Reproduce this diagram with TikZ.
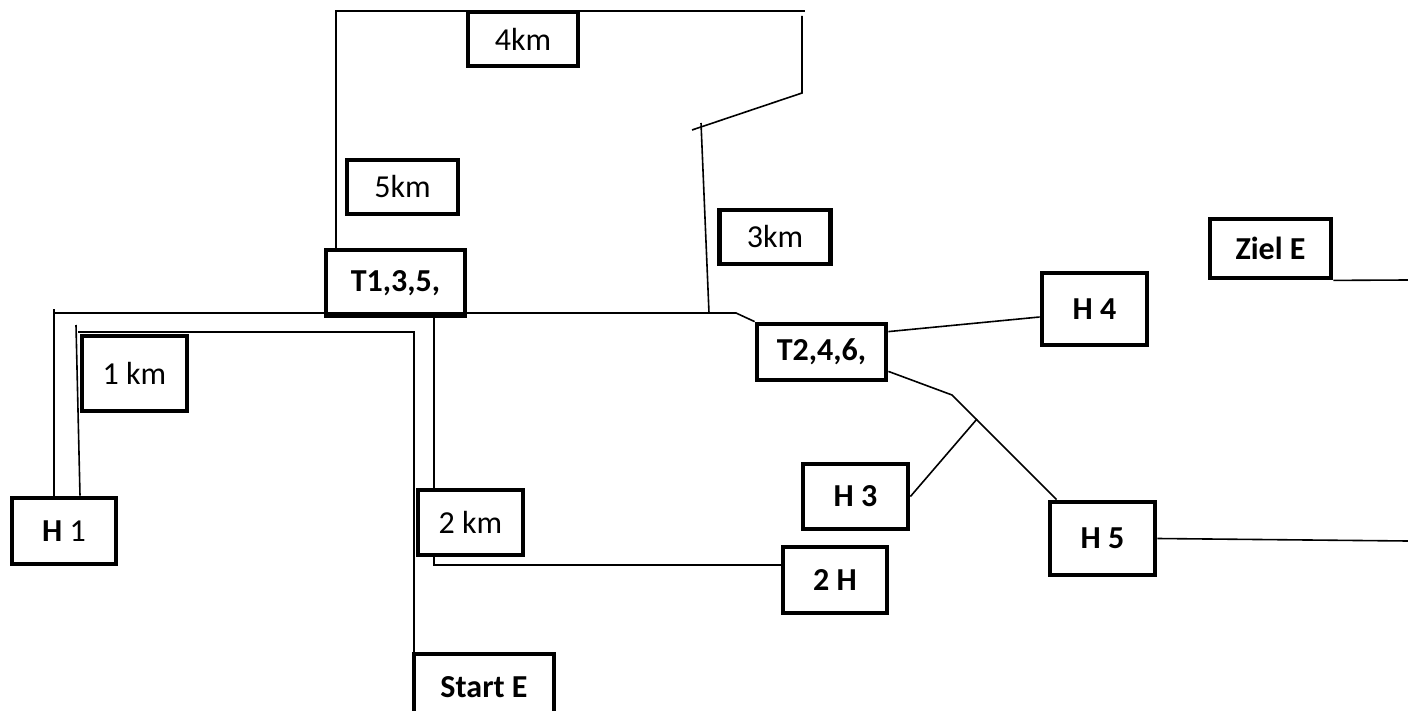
\documentclass[tikz,border=0pt]{standalone}
\usepackage{fontspec}
\setmainfont{Carlito}
\usepackage{tikz}

\begin{document}
\begin{tikzpicture}[x=0.5pt,y=-0.5pt]
  \tikzset{
    box/.style={draw, line width=2.4pt, inner sep=0pt,
          font=\fontsize{16}{19}\selectfont\bfseries},
    kmbox/.style={box, font=\fontsize{16}{19}\selectfont},
    line/.style={line width=0.8pt}
  }

  \useasboundingbox (0,0) rectangle (1408,711);

  \node[kmbox, minimum width=55pt, minimum height=27pt] (km4) at (523,39) {4km};
  \node[kmbox, minimum width=55.5pt, minimum height=27pt] (km5) at (402.5,187) {5km};
  \node[kmbox, minimum width=55.5pt, minimum height=27pt] (km3) at (775,237) {3km};
  \node[kmbox, minimum width=52.5pt, minimum height=37.5pt] (km1) at (134.5,373.5) {1 km};
  \node[kmbox, minimum width=52.5pt, minimum height=32.5pt] (km2) at (470.5,522.5) {2 km};

  \node[box, minimum width=69.5pt, minimum height=33pt] (T1) at (395.5,283) {T1,3,5,};
  \node[box, minimum width=64.5pt, minimum height=28pt] (T2) at (821.5,352) {T2,4,6,};
  \node[kmbox, minimum width=52pt, minimum height=33pt] (H1) at (64,531) {\textbf{H} 1};
  \node[box, minimum width=52pt, minimum height=33pt] (H2) at (835,580) {2 H};
  \node[box, minimum width=52.5pt, minimum height=32.5pt] (H3) at (855.5,496.5) {H 3};
  \node[box, minimum width=52.5pt, minimum height=36pt] (H4) at (1094.5,309) {H 4};
  \node[box, minimum width=52.5pt, minimum height=36.5pt] (H5) at (1102.5,538.5) {H 5};
  \node[box, minimum width=60.5pt, minimum height=29.5pt] (ziel) at (1270.5,248.5) {Ziel E};
  \node[box, minimum width=70pt, minimum height=33pt] (start) at (484,687) {Start E};

  \coordinate (ntl) at (336,11);
  \coordinate (ntr) at (805,11);
  \coordinate (rt) at (802,16);
  \coordinate (rb) at (802,93);
  \coordinate (rk) at (692,130);
  \coordinate (vt) at (701,123);
  \coordinate (vb) at (709,313);
  \coordinate (hl) at (54,309);
  \coordinate (hc) at (54,313);
  \coordinate (hr) at (736,313);
  \coordinate (il) at (76,325);
  \coordinate (ic) at (78,332);
  \coordinate (ir) at (414,332);
  \coordinate (dl) at (434,565);
  \coordinate (ja) at (952,395);
  \coordinate (jb) at (977,419);
  \coordinate (ziel-r) at (1408,280);
  \coordinate (h5-r) at (1408,541);

  \draw[line] (T1.north -| ntl) -- (ntl) -- (ntr);
  \draw[line] (rt) -- (rb) -- (rk);
  \draw[line] (vt) -- (vb);
  \draw[line] (H1.north -| hl) -- (hl);
  \draw[line] (hc) -- (hr) -- (T2.north west);

  \draw[line] (il) -- ([xshift=8pt]H1.north);
  \draw[line] (ic) -- (ir) -- (start.north -| ir);
  \draw[line] (T1.south -| dl) -- (km2.north -| dl);
  \draw[line] (km2.south -| dl) -- (dl) -- (H2.west |- dl);

  \draw[line] ([yshift=-5pt]T2.north east) -- ([yshift=-4pt]H4.west);
  \draw[line] ([yshift=5.5pt]T2.south east) -- (ja) -- ([xshift=4.5pt]H5.north west);
  \draw[line] (jb) -- (H3.east);
  \draw[line] (H5.east) -- (h5-r);
  \draw[line] (ziel.south east) -- (ziel-r);
\end{tikzpicture}
\end{document}
